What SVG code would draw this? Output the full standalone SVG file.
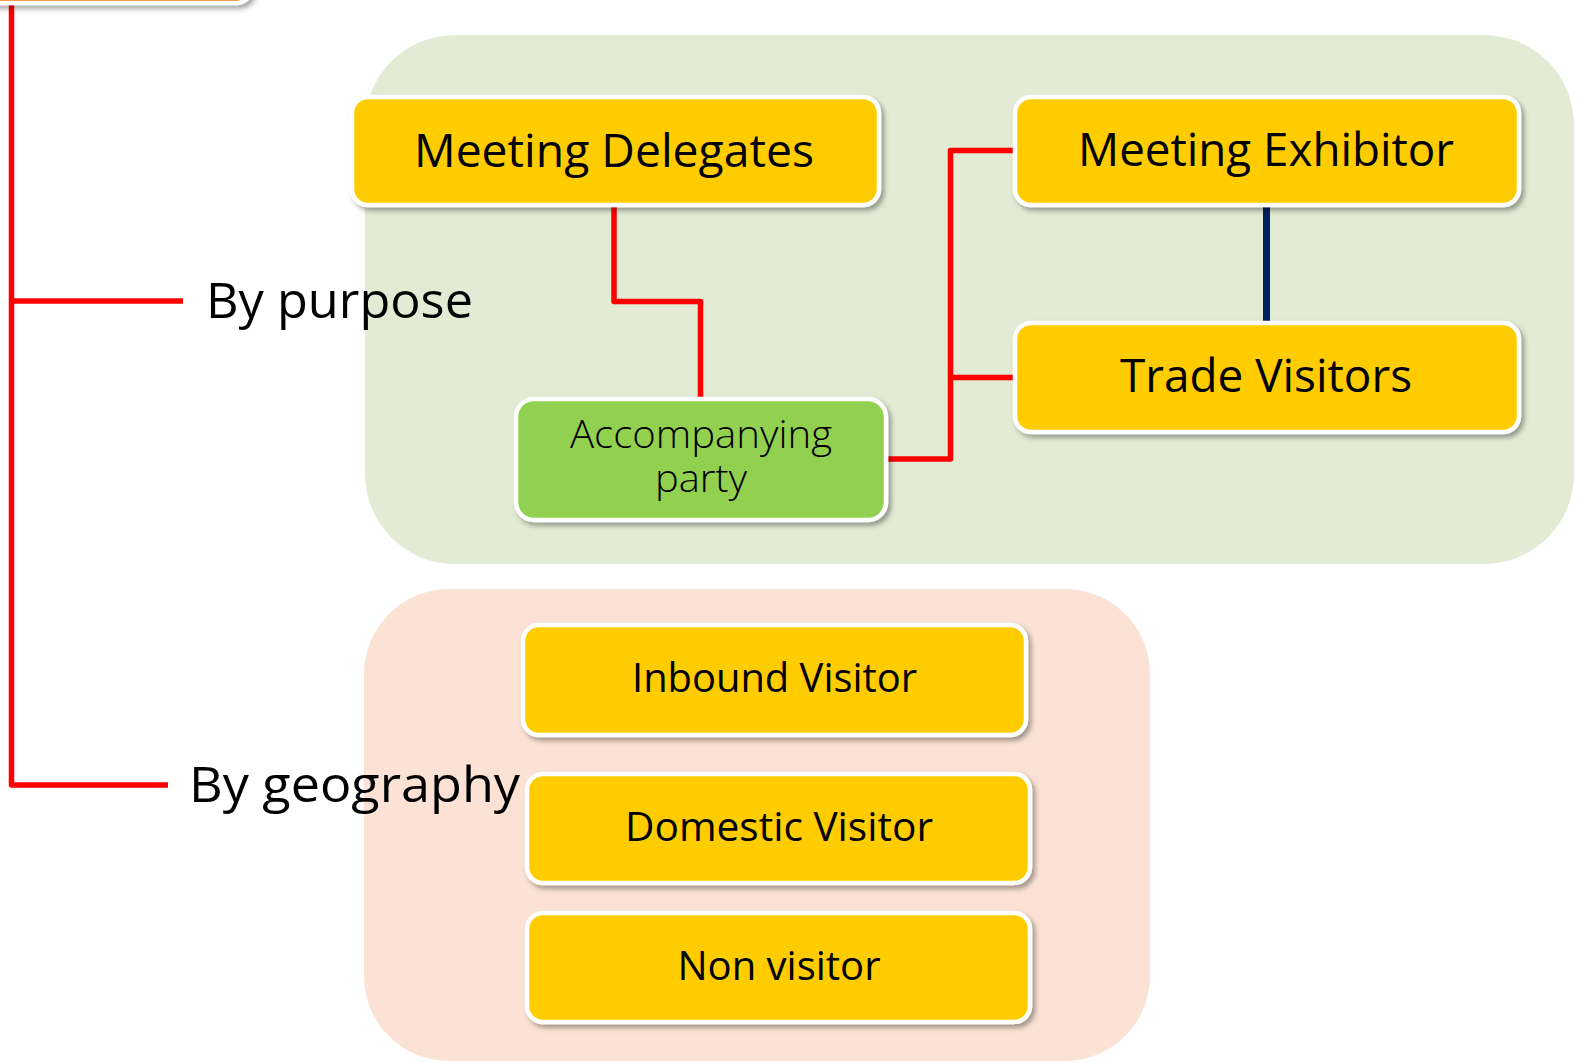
<svg xmlns="http://www.w3.org/2000/svg" width="1585" height="1063" viewBox="0 0 1585 1063">
  <defs>
    <filter id="shadow" x="-10%" y="-20%" width="125%" height="150%">
      <feDropShadow dx="3" dy="3.5" stdDeviation="2.5" flood-color="#000000" flood-opacity="0.35"/>
    </filter>
    <style>
      .box { stroke: #ffffff; stroke-width: 4.5; filter: url(#shadow); }
      .yellow { fill: #ffcc00; }
      .green { fill: #92d050; }
      .orange { fill: #ec7a14; }
      .label { font-family: "Open Sans", "Noto Sans", "DejaVu Sans", sans-serif; fill: #000000; text-anchor: middle; }
      .big { font-size: 46px; }
      .mid { font-size: 40px; }
      .small { font-size: 38px; font-weight: 300; }
      .branch { font-family: "Open Sans", "Noto Sans", "DejaVu Sans", sans-serif; font-size: 50px; fill: #000000; }
      .red { fill: none; stroke: #ff0000; stroke-width: 5.5; stroke-linejoin: round; }
      .navy { fill: none; stroke: #002060; stroke-width: 7; }
    </style>
  </defs>

  <rect width="1585" height="1063" fill="#ffffff"/>

  <!-- category panels -->
  <rect id="panel-purpose" x="365" y="35" width="1209" height="529" rx="90" fill="#e3ebd5"/>
  <rect id="panel-geography" x="364" y="589" width="786" height="472" rx="85" fill="#fbe2d4"/>

  <!-- connectors -->
  <g id="connectors">
    <path class="red" d="M11.5,0 V785 H168"/>
    <path class="red" d="M11.5,301 H183"/>
    <path class="red" d="M614,205 V301.5 H700.5 V398"/>
    <path class="red" d="M886,459 H950.5 V150.5 H1015"/>
    <path class="red" d="M950.5,377.5 H1015"/>
    <path class="navy" d="M1266.5,205 V322"/>
  </g>

  <!-- root node, mostly above the frame -->
  <g id="node-root">
    <rect class="box orange" x="-20" y="-100" width="272" height="103" rx="16"/>
  </g>

  <g id="label-purpose">
    <text class="branch" x="206" y="318" textLength="267" lengthAdjust="spacingAndGlyphs">By purpose</text>
  </g>
  <g id="label-geography">
    <text class="branch" x="189" y="802" textLength="331" lengthAdjust="spacingAndGlyphs">By geography</text>
  </g>

  <g id="node-meeting-delegates">
    <rect class="box yellow" x="352" y="97" width="527" height="108" rx="16"/>
    <text class="label big" x="614" y="167" textLength="400" lengthAdjust="spacingAndGlyphs">Meeting Delegates</text>
  </g>

  <g id="node-meeting-exhibitor">
    <rect class="box yellow" x="1015" y="97" width="504" height="108" rx="16"/>
    <text class="label big" x="1266" y="166" textLength="376" lengthAdjust="spacingAndGlyphs">Meeting Exhibitor</text>
  </g>

  <g id="node-trade-visitors">
    <rect class="box yellow" x="1015" y="323" width="504" height="109" rx="16"/>
    <text class="label big" x="1266" y="392" textLength="292" lengthAdjust="spacingAndGlyphs">Trade Visitors</text>
  </g>

  <g id="node-accompanying-party">
    <rect class="box green" x="516" y="399" width="370" height="121" rx="18"/>
    <text class="label small" x="701" y="448" textLength="262" lengthAdjust="spacingAndGlyphs">Accompanying</text>
    <text class="label small" x="701" y="492" textLength="92" lengthAdjust="spacingAndGlyphs">party</text>
  </g>

  <g id="node-inbound-visitor">
    <rect class="box yellow" x="523" y="625" width="503" height="110" rx="16"/>
    <text class="label mid" x="774.5" y="692" textLength="285" lengthAdjust="spacingAndGlyphs">Inbound Visitor</text>
  </g>

  <g id="node-domestic-visitor">
    <rect class="box yellow" x="527" y="774" width="503" height="109" rx="16"/>
    <text class="label mid" x="779" y="841" textLength="308" lengthAdjust="spacingAndGlyphs">Domestic Visitor</text>
  </g>

  <g id="node-non-visitor">
    <rect class="box yellow" x="527" y="913" width="503" height="109" rx="16"/>
    <text class="label mid" x="779" y="980" textLength="203" lengthAdjust="spacingAndGlyphs">Non visitor</text>
  </g>
</svg>
